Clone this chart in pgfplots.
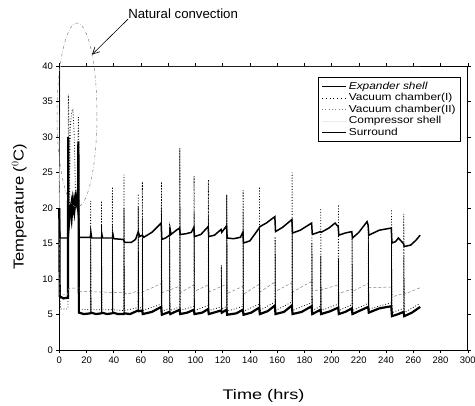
\documentclass[border=0pt]{standalone}
\usepackage{pgfplots}
\pgfplotsset{compat=1.18}
\usepackage{fontspec}
\setmainfont{Liberation Sans}
\newfontfamily\widefont[FakeStretch=1.17]{Liberation Sans}
\newfontfamily\ywidefont[FakeStretch=1.15]{Liberation Sans}
\newfontfamily\xwidefont[FakeStretch=1.3]{Liberation Sans}
\usetikzlibrary{arrows.meta}
\begin{document}
\begin{tikzpicture}
\begin{axis}[
  scale only axis,
  width=408.5bp, height=284.3bp,
  xmin=0, xmax=300, ymin=0, ymax=40,
  xtick={0,20,...,300}, ytick={0,5,...,40},
  tick align=outside, major tick length=3bp,
  tick style={black, line width=0.6pt},
  axis line style={line width=0.8pt},
  ticklabel style={font=\fontsize{9.5}{10}\selectfont},
  /pgf/number format/assume math mode=true,
  xlabel={Time (hrs)},
  ylabel={Temperature ($^{0}$C)},
  xlabel style={font=\xwidefont\fontsize{14}{16}\selectfont, at={(axis description cs:0.5,-0.162)}, anchor=center},
  ylabel style={font=\ywidefont\fontsize{14.5}{16}\selectfont, at={(axis description cs:-0.098,0.505)}, anchor=center, rotate=0},
  clip=false,
  unbounded coords=jump,
  legend cell align=left,
  legend style={at={(rel axis cs:0.983,0.961)}, anchor=north east, draw=black,
    font=\widefont\fontsize{10.2}{10.5}\selectfont, row sep=-1.5pt, inner xsep=3pt, inner ysep=3pt},
  legend image code/.code={\draw[#1] (0cm,0cm) -- (0.85cm,0cm);},
]
% Expander shell (baseline)
\addplot[black, line width=2.2pt, legend image post style={line width=1.4pt}] table {
0 20
0.3 7.6
3 7.3
6 7.4
6.4 7.4
6.5 30
6.7 19
8 20
9 18.5
10 21
11 19.5
12 21.5
13 20.5
13.8 22
14 29.4
14.4 5.3
18 5.1
22.8 5.2
23.3 5.3
27 5.1
30.8 5.2
31.3 5.3
35 5.1
38.8 5.2
39.5 5.3
43 5.1
47.3 5.1
47.8 5.2
52 5.1
57.8 5.6
58.3 5.5
60.8 5.6
61.3 5.1
68 5.4
74.8 6.1
75.3 5.0
80.8 5.4
81.5 5.1
88.3 5.7
88.8 5.1
94 5.3
98.8 5.7
99.3 5.1
105 5.3
109.3 5.8
109.8 5.1
118.8 5.6
119.3 5.3
122.8 5.7
123.3 5.0
130 5.2
134.8 5.7
135.3 5.0
141 5.3
146.8 6.0
147.3 5.1
153 5.5
158.3 6.3
158.8 5.1
165 5.4
170.8 6.3
171.3 5.1
178 5.4
185.3 6.2
185.8 5.1
191.8 5.7
192.3 5.1
199 5.5
204.8 6.0
205.3 5.1
210 5.4
214.8 5.9
215.3 5.1
221 5.6
226.8 6.1
227.3 5.3
235 5.9
243.8 6.2
244.3 4.8
249 5.1
252.8 5.4
253.3 4.8
259 5.3
265 6.1
};
\addlegendentry{\textit{Expander shell}}
% Vacuum chamber (I)
\addplot[black, dotted, line width=0.8pt, legend image post style={line width=0.7pt, dash pattern=on 0.8pt off 3pt}] table {
0 25
0.4 8
1 5.8
6 5.8
6.4 6
6.6 36
7 33
7.5 20
8 31
9 33.5
10 34
11 30
12 21
13 20
14 32.8
14.4 29
14.6 5.8
22.9 5.7
23 21
23.3 5.7
30.9 5.7
31 21
31.3 5.7
38.9 5.7
39 23
39.3 5.7
47.4 5.6
47.5 24.7
47.8 5.6
57.9 6.0
58 22
58.3 6.0
60.9 6.0
61 23.7
61.3 5.6
74.9 6.5
75 23.7
75.3 5.5
80.9 5.9
81 18
81.3 5.6
88.4 6.1
88.5 28.4
88.8 5.6
98.9 6.2
99 24.5
99.3 5.6
109.4 6.3
109.5 24
109.8 5.6
118.9 6.1
119 12
119.3 5.8
122.9 6.2
123 21.9
123.3 5.5
134.9 6.2
135 22.5
135.3 5.5
146.9 6.5
147 23
147.3 5.6
158.4 6.8
158.5 16
158.8 5.6
170.9 6.8
171 25
171.3 5.6
185.4 6.7
185.5 16
185.8 5.6
191.9 6.2
192 20
192.3 5.6
204.9 6.5
205 20.5
205.3 5.6
214.9 6.4
215 16
215.3 5.6
226.9 6.6
227 17
227.3 5.8
243.9 6.7
244 19.8
244.3 5.3
252.9 5.9
253 19.2
253.3 5.3
265 6.6
};
\addlegendentry{Vacuum chamber(I)}
% Vacuum chamber (II)
\addplot[gray, densely dashed, line width=0.5pt, legend image post style={dash pattern=on 0.8pt off 2.5pt}] table {
0 25
0.5 7.8
6 7.8
7 8.7
14.5 8.8
15 8.3
30 8.2
47 8.1
50 7.9
57 8.3
58 8.0
66 8.6
74.8 9.4
75.3 8.1
88.3 9.0
88.8 8.1
98.8 9.2
99.3 8.3
109.3 9.2
109.8 8.2
122.8 9.3
123.3 8.0
134.8 9.0
135.3 7.9
146.8 9.3
147.3 8.2
158.3 9.6
158.8 8.3
170.8 9.5
171.3 8.2
185.3 9.7
185.8 8.4
191.8 8.5
192.3 8.5
204.8 9.2
205.3 8.0
214.8 8.6
215.3 8.3
226.8 9.4
227.3 8.8
243.8 8.9
244.3 7.5
252.8 8.0
253.3 7.9
265 8.8
};
\addlegendentry{Vacuum chamber(II)}
% Compressor shell
\addplot[gray!15, line width=0.4pt] table {
0 20
1 40
265 40
};
\addlegendentry{Compressor shell}
% Surround
\addplot[black, line width=1.5pt, legend image post style={line width=0.8pt}] table {
0 20
0.4 15.8
6.5 15.8
7 17
8 19.5
9 21
10 19
11 21.5
12 20.5
13 22
14 21
14.6 15.9
20 15.9
22.8 15.9
23.2 16.6
23.8 15.8
31 15.8
31.3 16.3
31.8 15.8
39 15.8
39.4 16.3
40 15.7
47 15.6
48 15.2
53 15.2
56 15.6
58 16.7
59 16.0
61 16.2
62 15.9
68 16.6
74.8 17.9
75.3 15.6
78 15.8
81 16.2
81.5 16.9
82 16.3
86 16.9
88.3 17.2
88.8 16.3
93 16.4
97 16.6
98.8 17.3
99.3 16.0
104 16.3
109.3 17.4
109.8 16.0
114 16.2
118.8 17.0
119.3 16.6
122.8 17.5
123.3 15.8
128 15.7
133 15.9
134.8 16.6
135.3 15.1
140 15.4
146.8 17.2
147.3 17.4
152 17.9
158.3 18.8
158.8 16.7
164 17.3
170.8 18.4
171.3 16.5
177 16.9
185.3 17.9
185.8 16.3
191.8 16.7
192.3 16.6
198 17.2
202.5 17.9
204.8 17.4
205.3 16.2
210 16.5
214.8 16.7
215.3 15.8
220 16.6
226 18.1
226.8 17.6
227.3 16.2
235 16.9
243.8 17.2
244.3 15.1
247 15.3
249 15.8
252.8 15.0
253.3 14.6
258 14.8
262 15.5
265 16.2
};
\addlegendentry{Surround}
% Expander shell defrost spikes
\addplot[black, line width=0.6pt, forget plot] table {
23 5.2
23 17.5
23.3 5.2
nan nan
31 5.2
31 17.6
31.3 5.2
nan nan
39 5.2
39 17.7
39.3 5.2
nan nan
47.5 5.2
47.5 20
47.8 5.2
nan nan
58 5.4
58 20.2
58.3 5.4
nan nan
61 5.4
61 18.6
61.3 5.2
nan nan
75 5.8
75 20
75.3 5.0
nan nan
81 5.3
81 17.4
81.3 5.1
nan nan
88.5 5.6
88.5 28.4
88.8 5.1
nan nan
99 5.6
99 19.5
99.3 5.1
nan nan
109.5 5.7
109.5 19
109.8 5.1
nan nan
119 5.5
119 11.8
119.3 5.2
nan nan
123 5.6
123 21.9
123.3 5.0
nan nan
135 5.6
135 19.5
135.3 5.0
nan nan
147 5.9
147 17
147.3 5.0
nan nan
158.5 6.2
158.5 15.5
158.8 5.0
nan nan
171 6.2
171 18.4
171.3 5.0
nan nan
185.5 6.1
185.5 15.1
185.8 5.0
nan nan
192 5.6
192 13.3
192.3 5.0
nan nan
205 5.9
205 13
205.3 5.0
nan nan
215 5.8
215 15.8
215.3 5.0
nan nan
227 6.0
227 16.5
227.3 5.2
nan nan
244 6.1
244 15.5
244.3 4.7
nan nan
253 5.3
253 13.2
253.3 4.7
};
% annotation
\draw[gray, dash dot, line width=0.5pt] (axis cs:13,33.1) ellipse [x radius=20bp, y radius=92bp];
\draw[black, line width=0.6pt, -{Straight Barb[length=7bp,width=7bp]}] (axis cs:50.5,46.6) -- (axis cs:24,41.6);
\node[anchor=west, inner sep=0pt, font=\fontsize{13.3}{15}\selectfont] at (axis cs:50.5,47.4) {Natural convection};
\coordinate (bl) at (rel axis cs:0,0);
\coordinate (tr) at (rel axis cs:1,1);
\end{axis}
\pgfresetboundingbox
\path ([shift={(-59.3bp,-55.7bp)}]bl) rectangle ([shift={(7.2bp,66bp)}]tr);
\end{tikzpicture}
\end{document}
